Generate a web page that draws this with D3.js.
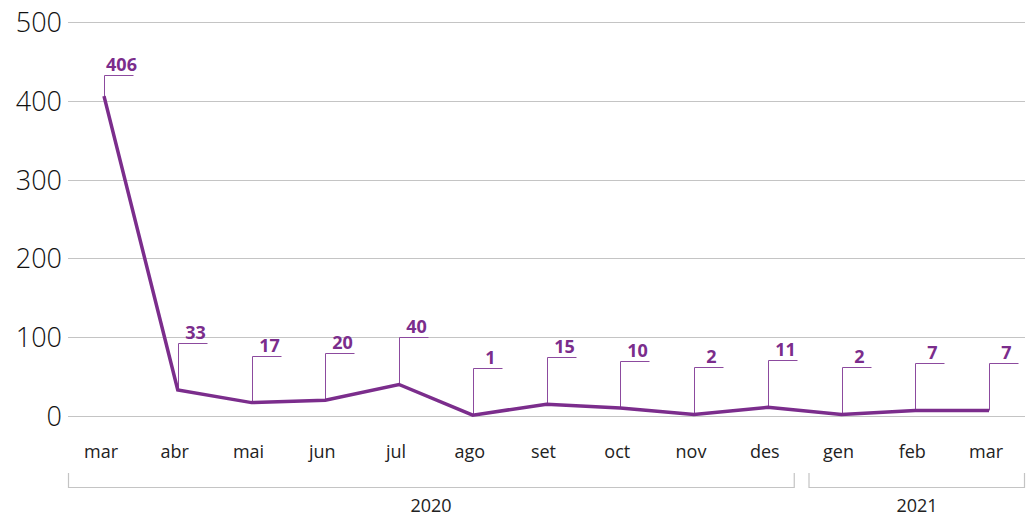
<!DOCTYPE html>
<html>
<head>
<meta charset="utf-8">
<script src="https://d3js.org/d3.v7.min.js"></script>
<style>
body { margin: 0; background: #fff; }
text { font-family: "Open Sans", "Noto Sans", sans-serif; }
</style>
</head>
<body>
<script>
// months and values
var months = ["mar", "abr", "mai", "jun", "jul", "ago", "set", "oct", "nov", "des", "gen", "feb", "mar"];
var values = [406, 33, 17, 20, 40, 1, 15, 10, 2, 11, 2, 7, 7];
var yTicks = [0, 100, 200, 300, 400, 500];
var years = [
  {label: "2020", from: 0, to: 9},
  {label: "2021", from: 10, to: 12}
];

var W = 1035, H = 516;
var purple = "#7b2d8c";

var svg = d3.select("body").append("svg")
    .attr("width", W)
    .attr("height", H);

var x = d3.scalePoint()
    .domain(d3.range(months.length))
    .range([104, 989]);

var y = d3.scaleLinear()
    .domain([0, 500])
    .range([416, 22]);

// grid + y labels
svg.append("g").selectAll("line")
    .data(yTicks)
    .enter().append("line")
    .attr("x1", 68).attr("x2", 1025)
    .attr("y1", function(d) { return Math.round(y(d)) + 0.5; })
    .attr("y2", function(d) { return Math.round(y(d)) + 0.5; })
    .attr("stroke", "#c4c4c4")
    .attr("stroke-width", 1);

svg.append("g").selectAll("text")
    .data(yTicks)
    .enter().append("text")
    .attr("x", 62)
    .attr("y", function(d) { return y(d) + 10; })
    .attr("text-anchor", "end")
    .attr("font-size", 27)
    .attr("font-weight", 300)
    .attr("fill", "#111")
    .text(function(d) { return d; });

// x labels
svg.append("g").selectAll("text")
    .data(months)
    .enter().append("text")
    .attr("x", function(d, i) { return x(i) - 3; })
    .attr("y", 458)
    .attr("text-anchor", "middle")
    .attr("font-size", 18)
    .attr("font-weight", 400)
    .attr("fill", "#222")
    .text(function(d) { return d; });

// year brackets
var yb = svg.append("g");
years.forEach(function(yr, k) {
  var x0 = k === 0 ? 68.5 : x(yr.from) - 32.5;
  var x1 = k === 0 ? x(yr.to) + 26.5 : 1024.5;
  yb.append("path")
    .attr("d", "M" + x0 + ",473V487.5H" + x1 + "V473")
    .attr("fill", "none")
    .attr("stroke", "#c4c4c4")
    .attr("stroke-width", 1.2);
  yb.append("text")
    .attr("x", k === 0 ? 431 : 917)
    .attr("y", 512)
    .attr("text-anchor", "middle")
    .attr("font-size", 18)
    .attr("font-weight", 400)
    .attr("fill", "#222")
    .text(yr.label);
});

// leaders and labels
var ann = svg.append("g");
values.forEach(function(v, i) {
  var px = Math.round(x(i)) + 0.5, py = y(v);
  var top = Math.round(i === 0 ? py - 21 : py - 47) + 0.5;
  ann.append("path")
    .attr("d", "M" + px + "," + py + "V" + top + "H" + (px + 29))
    .attr("fill", "none")
    .attr("stroke", "#8c4a9e")
    .attr("stroke-width", 1);
  ann.append("text")
    .attr("x", px + 17)
    .attr("y", top - 5)
    .attr("text-anchor", "middle")
    .attr("font-size", 18)
    .attr("font-weight", 700)
    .attr("fill", purple)
    .text(v);
});

// line
svg.append("path")
    .datum(values)
    .attr("fill", "none")
    .attr("stroke", purple)
    .attr("stroke-width", 3.5)
    .attr("d", d3.line()
      .x(function(d, i) { return x(i); })
      .y(function(d) { return y(d); }));
</script>
</body>
</html>
